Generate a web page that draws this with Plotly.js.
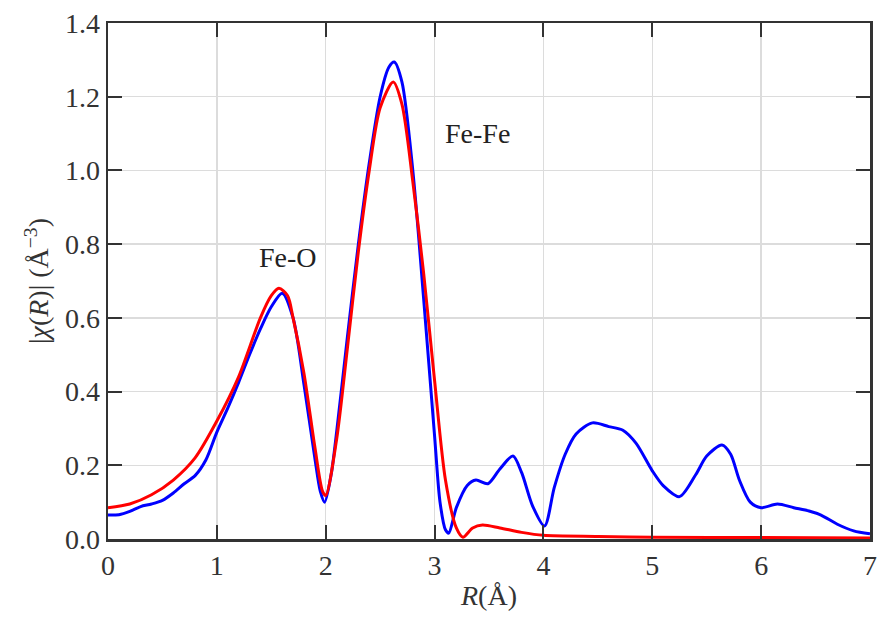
<!DOCTYPE html>
<html><head><meta charset="utf-8">
<script src="https://cdn.plot.ly/plotly-3.0.1.min.js"></script>
<style>html,body{margin:0;padding:0;background:#fff}#chart{width:878px;height:635px}</style>
</head><body><div id="chart"></div>
<div id="aux" style="position:absolute;left:0;top:0;font-family:'Liberation Serif';font-size:1px;color:#fff"></div>
<script>
const blueR = [0,0.1,0.2,0.3,0.4,0.5,0.6,0.7,0.8,0.9,1.0,1.1,1.2,1.3,1.4,1.5,1.6,1.7,1.8,1.9,1.95,1.99,2.05,2.1,2.2,2.3,2.4,2.5,2.58,2.63,2.7,2.8,2.9,3.0,3.05,3.1,3.13,3.2,3.3,3.38,3.49,3.6,3.72,3.8,3.9,4.01,4.1,4.2,4.3,4.45,4.6,4.73,4.85,5.0,5.1,5.25,5.4,5.5,5.64,5.72,5.8,5.9,6.0,6.15,6.3,6.44,6.55,6.7,6.85,7.0];
const blueChi = [0.065,0.066,0.075,0.088,0.095,0.105,0.125,0.15,0.172,0.215,0.29,0.355,0.425,0.5,0.57,0.63,0.667,0.6,0.42,0.22,0.13,0.1,0.175,0.29,0.55,0.8,1.02,1.2,1.28,1.294,1.24,1.0,0.65,0.28,0.1,0.025,0.016,0.085,0.145,0.16,0.15,0.19,0.225,0.18,0.09,0.035,0.14,0.23,0.285,0.315,0.305,0.295,0.26,0.185,0.145,0.115,0.175,0.225,0.255,0.23,0.16,0.1,0.085,0.095,0.085,0.076,0.065,0.04,0.022,0.014];
const redR = [0,0.2,0.4,0.6,0.8,1.0,1.2,1.4,1.5,1.57,1.65,1.7,1.8,1.9,1.97,2.0,2.1,2.2,2.3,2.4,2.5,2.62,2.7,2.8,2.9,3.0,3.1,3.2,3.26,3.35,3.44,3.6,3.8,4.0,4.5,5.0,6.0,7.0];
const redChi = [0.085,0.095,0.12,0.16,0.22,0.32,0.44,0.6,0.66,0.68,0.66,0.6,0.45,0.25,0.13,0.118,0.27,0.52,0.78,1.0,1.17,1.24,1.18,0.97,0.72,0.43,0.16,0.03,0.005,0.03,0.038,0.03,0.018,0.01,0.007,0.005,0.004,0.003];
const xTicks = [0,1,2,3,4,5,6,7];
const yTicks = [0,0.2,0.4,0.6,0.8,1.0,1.2,1.4];
const yTickText = ['0.0','0.2','0.4','0.6','0.8','1.0','1.2','1.4'];
const peakLabels = ['Fe-O','Fe-Fe'];
const peakLabelX = [1.65,3.39];
const peakLabelY = [0.765,1.1];

function mkFont(size, color){ return {family:'Liberation Serif', size:size, color:color||'#333'}; }
const layout = {
  width:878, height:635,
  margin:{l:108, r:8, t:23, b:96},
  showlegend:false,
  xaxis:{range:[0,7], tickvals:xTicks, ticktext:xTicks.map(String),
    showline:true, linecolor:'#333', linewidth:2.5, mirror:'allticks',
    ticks:'inside', ticklen:14, tickwidth:2, tickcolor:'#333',
    showgrid:true, gridcolor:'#dcdcdc', gridwidth:1.5, zeroline:false,
    tickfont:mkFont(28),
    title:{text:'<i>R</i>(Å)', font:mkFont(28), standoff:6}},
  yaxis:{range:[0,1.4], tickvals:yTicks, ticktext:yTickText,
    showline:true, linecolor:'#333', linewidth:2.5, mirror:'allticks',
    ticks:'inside', ticklen:14, tickwidth:2, tickcolor:'#333',
    showgrid:true, gridcolor:'#dcdcdc', gridwidth:1.5, zeroline:false,
    tickfont:mkFont(28),
    title:{text:'|<i>χ</i>(<i>R</i>)| (Å<sup>−3</sup>)', font:mkFont(28), standoff:8}},
  annotations: peakLabels.map((t,i)=>({x:peakLabelX[i], y:peakLabelY[i], xref:'x', yref:'y', text:t, showarrow:false, font:mkFont(28,'#222')}))
};
const data = [
  {x:blueR, y:blueChi, mode:'lines', line:{color:'#0000ff', width:3, shape:'spline', smoothing:0.8}},
  {x:redR, y:redChi, mode:'lines', line:{color:'#ff0000', width:3, shape:'spline', smoothing:0.8}}
];
Plotly.newPlot('chart', data, layout, {staticPlot:true}).then(gd=>{
  document.getElementById('aux').textContent='';
});
</script></body></html>
